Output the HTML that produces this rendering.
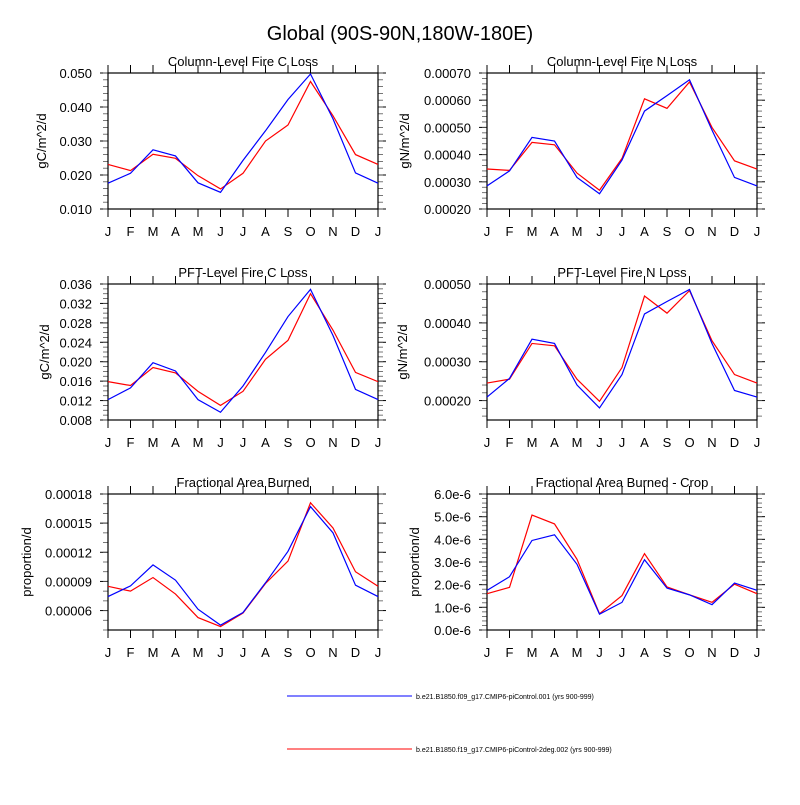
<!DOCTYPE html>
<html><head><meta charset="utf-8"><style>
body{margin:0;background:#fff;}
svg{font-family:"Liberation Sans",sans-serif;}
</style></head><body>
<svg id="c" width="800" height="800">
<text x="400" y="40" font-size="20" text-anchor="middle">Global (90S-90N,180W-180E)</text>
</svg>
<script>
const months = ["J","F","M","A","M","J","J","A","S","O","N","D","J"];
const colCBlue = [.0176,.0205,.0274,.0256,.0177,.0149,.0243,.0330,.0422,.0497,.0365,.0206,.0176];
const colCRed = [.0231,.0213,.0261,.0249,.0198,.0159,.0205,.0300,.0347,.0475,.0374,.0260,.0231];
const colNBlue = [.000285,.000340,.000463,.000450,.000316,.000256,.000380,.000560,.000617,.000675,.000490,.000316,.000285];
const colNRed = [.000347,.000342,.000445,.000436,.000332,.000269,.000386,.000605,.000570,.000667,.000500,.000377,.000347];
const pftCBlue = [.0122,.0146,.0198,.0181,.0122,.0096,.0150,.0219,.0293,.0349,.0254,.0143,.0122];
const pftCRed = [.0159,.0151,.0188,.0177,.0139,.0110,.0139,.0205,.0244,.0340,.0265,.0178,.0159];
const pftNBlue = [.000209,.000257,.000358,.000347,.000240,.000181,.000267,.000423,.000455,.000486,.000347,.000226,.000209];
const pftNRed = [.000245,.000255,.000347,.000341,.000255,.000198,.000285,.000469,.000425,.000483,.000354,.000267,.000245];
const fabBlue = [.0000744,.0000854,.000107,.0000913,.0000614,.000045,.000058,.0000886,.000121,.000167,.000140,.0000861,.0000744];
const fabRed = [.000085,.000080,.000094,.000077,.0000528,.0000435,.0000574,.0000879,.000111,.000171,.000145,.000100,.000085];
const cropBlue = [1.75e-6,2.35e-6,3.95e-6,4.2e-6,2.9e-6,0.7e-6,1.22e-6,3.1e-6,1.85e-6,1.55e-6,1.12e-6,2.07e-6,1.75e-6];
const cropRed = [1.6e-6,1.88e-6,5.07e-6,4.68e-6,3.12e-6,0.72e-6,1.52e-6,3.37e-6,1.9e-6,1.55e-6,1.22e-6,2.02e-6,1.6e-6];
const colCTicks = ["0.010","0.020","0.030","0.040","0.050"];
const colNTicks = ["0.00020","0.00030","0.00040","0.00050","0.00060","0.00070"];
const pftCTicks = ["0.008","0.012","0.016","0.020","0.024","0.028","0.032","0.036"];
const pftNTicks = ["0.00020","0.00030","0.00040","0.00050"];
const fabTicks = ["0.00006","0.00009","0.00012","0.00015","0.00018"];
const cropTicks = ["0.0e-6","1.0e-6","2.0e-6","3.0e-6","4.0e-6","5.0e-6","6.0e-6"];

const svg=document.getElementById('c');
const NS="http://www.w3.org/2000/svg";
function mk(tag,attrs,parent){const e=document.createElementNS(NS,tag);for(const k in attrs)e.setAttribute(k,attrs[k]);(parent||svg).appendChild(e);return e;}

const panels=[
 {name:"column-fire-c",title:"Column-Level Fire C Loss",yl:"gC/m^2/d",x:108,y:73,min:0.010,max:0.050,ticks:colCTicks,blue:colCBlue,red:colCRed,minor:5,off:62},
 {name:"column-fire-n",title:"Column-Level Fire N Loss",yl:"gN/m^2/d",x:487,y:73,min:0.0002,max:0.0007,ticks:colNTicks,blue:colNBlue,red:colNRed,minor:5,off:78},
 {name:"pft-fire-c",title:"PFT-Level Fire C Loss",yl:"gC/m^2/d",x:108,y:284,min:0.008,max:0.036,ticks:pftCTicks,blue:pftCBlue,red:pftCRed,minor:4,off:59},
 {name:"pft-fire-n",title:"PFT-Level Fire N Loss",yl:"gN/m^2/d",x:487,y:284,min:0.00015,max:0.0005,ticks:pftNTicks,blue:pftNBlue,red:pftNRed,minor:5,off:80},
 {name:"fractional-area-burned",title:"Fractional Area Burned",yl:"proportion/d",x:108,y:494,min:0.00004,max:0.00018,ticks:fabTicks,blue:fabBlue,red:fabRed,minor:3,off:77},
 {name:"fractional-area-burned-crop",title:"Fractional Area Burned - Crop",yl:"proportion/d",x:487,y:494,min:0,max:6e-6,ticks:cropTicks,blue:cropBlue,red:cropRed,minor:5,off:68}
];
const W=270,H=136;
panels.forEach(p=>{
 const g=mk('g',{});
 
 
 const sx=i=>p.x+i*W/12;
 const sy=v=>p.y+H-(v-p.min)/(p.max-p.min)*H;
 const t=mk('text',{x:p.x+W/2,y:p.y-7,'font-size':13,'text-anchor':'middle'},g);t.textContent=p.title;
 
 const yl=mk('text',{x:0,y:0,'font-size':13,'text-anchor':'middle',transform:`translate(${p.x-p.off},${p.y+H/2}) rotate(-90)`},g);yl.textContent=p.yl;
 
 p.ticks.forEach(s=>{
  const v=parseFloat(s);const y=sy(v);
  if(y<p.y-0.5||y>p.y+H+0.5)return;
  mk('line',{x1:p.x-8,x2:p.x,y1:y,y2:y,stroke:'#000'},g);
  mk('line',{x1:p.x+W,x2:p.x+W+8,y1:y,y2:y,stroke:'#000'},g);
  const tl=mk('text',{x:p.x-16,y:y+5,'font-size':13,'text-anchor':'end'},g);tl.textContent=s;
  
 });
 const v0=parseFloat(p.ticks[0]),v1=parseFloat(p.ticks[1]);
 const mstep=(v1-v0)/p.minor;
 for(let v=v0-(v1-v0);v<=p.max+1e-12;v+=mstep){
  const y=sy(v);if(y<p.y-0.5||y>p.y+H+0.5)continue;
  mk('line',{x1:p.x-5,x2:p.x,y1:y,y2:y,stroke:'#555','stroke-width':0.8},g);
  mk('line',{x1:p.x+W,x2:p.x+W+5,y1:y,y2:y,stroke:'#555','stroke-width':0.8},g);
 }
 months.forEach((m,i)=>{
  const x=sx(i);
  mk('line',{x1:x,x2:x,y1:p.y+H,y2:p.y+H+8,stroke:'#000'},g);
  mk('line',{x1:x,x2:x,y1:p.y-8,y2:p.y,stroke:'#000'},g);
  const tl=mk('text',{x:x,y:p.y+H+27,'font-size':13,'text-anchor':'middle'},g);tl.textContent=m;
  
 });
 mk('rect',{x:p.x,y:p.y,width:W,height:H,fill:'none',stroke:'#000','stroke-width':1.2},g);
 [['red','#ff0000','red-series'],['blue','#0000ff','blue-series']].forEach(([k,c,n])=>{
  const pts=p[k].map((v,i)=>sx(i)+','+sy(v)).join(' ');
  const pl=mk('polyline',{points:pts,fill:'none',stroke:c,'stroke-width':1.2},g);
  
 });
});
const legend=[['#0000ff',696,'b.e21.B1850.f09_g17.CMIP6-piControl.001 (yrs 900-999)'],['#ff0000',749,'b.e21.B1850.f19_g17.CMIP6-piControl-2deg.002 (yrs 900-999)']];
legend.forEach(([c,y,txt])=>{
 const g=mk('g',{});
 
 
 mk('line',{x1:287,x2:412,y1:y,y2:y,stroke:c,'stroke-width':1},g);
 const t=mk('text',{x:416,y:y+3,'font-size':7},g);t.textContent=txt;
});
</script>
</body></html>
